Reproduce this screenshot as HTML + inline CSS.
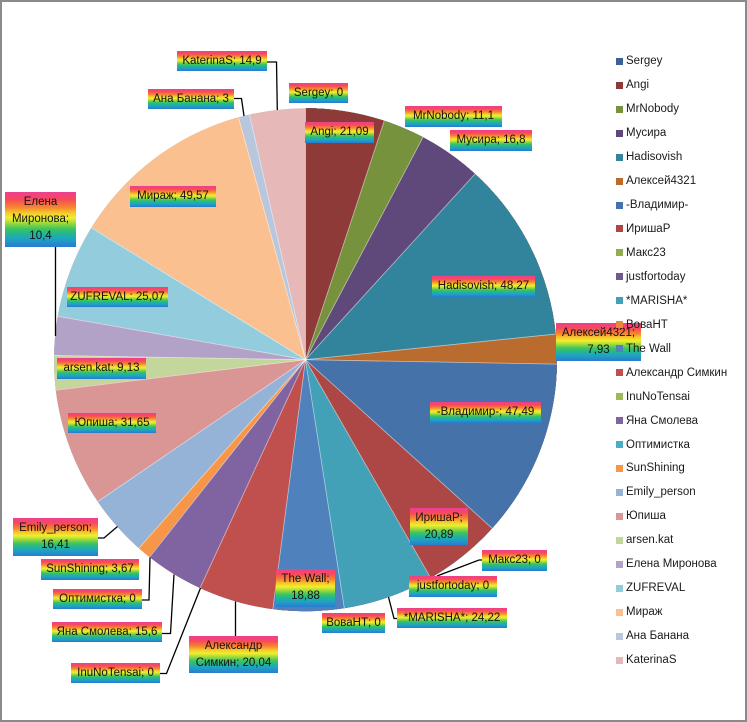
<!DOCTYPE html>
<html><head><meta charset="utf-8">
<style>
html,body{margin:0;padding:0;background:#fff;}
#wrap{position:relative;width:747px;height:722px;overflow:hidden;background:#fff;font-family:"Liberation Sans","Noto Sans CJK SC",sans-serif;}
#frame{position:absolute;left:0;top:0;width:747px;height:722px;box-sizing:border-box;border:2px solid #8a8a8a;}
svg{position:absolute;left:0;top:0;}
.lb{position:absolute;display:flex;align-items:center;justify-content:center;text-align:center;white-space:nowrap;font-size:11.5px;line-height:17px;color:#141414;
background:linear-gradient(180deg,#ee3f93 0%,#f74b58 14%,#f7862f 28%,#f6c82c 38%,#eef02c 47%,#9ad83e 57%,#3cc45e 67%,#22b39a 77%,#1fa2c4 86%,#2a7ad0 100%);}
.lg{position:absolute;left:616px;width:130px;height:14px;}
.lg i{position:absolute;left:0;top:3.5px;width:7px;height:7px;}
.lg span{position:absolute;left:10px;top:0;font-size:11.5px;line-height:14px;color:#1a1a1a;white-space:nowrap;}
</style></head>
<body><div id="wrap">
<svg width="747" height="722" viewBox="0 0 747 722">
<g transform="rotate(-90 305.5 359.7)" fill="none" stroke-width="251.5">
<circle cx="305.5" cy="359.7" r="125.75" stroke="#E6B9B8"/>
<circle cx="305.5" cy="359.7" r="125.75" stroke="#B8C6DE" stroke-dasharray="761.829 2000"/>
<circle cx="305.5" cy="359.7" r="125.75" stroke="#FAC090" stroke-dasharray="756.133 2000"/>
<circle cx="305.5" cy="359.7" r="125.75" stroke="#93CDDD" stroke-dasharray="662.008 2000"/>
<circle cx="305.5" cy="359.7" r="125.75" stroke="#B3A2C7" stroke-dasharray="614.404 2000"/>
<circle cx="305.5" cy="359.7" r="125.75" stroke="#C3D69B" stroke-dasharray="594.656 2000"/>
<circle cx="305.5" cy="359.7" r="125.75" stroke="#D99694" stroke-dasharray="577.320 2000"/>
<circle cx="305.5" cy="359.7" r="125.75" stroke="#95B3D7" stroke-dasharray="517.222 2000"/>
<circle cx="305.5" cy="359.7" r="125.75" stroke="#F79646" stroke-dasharray="486.062 2000"/>
<circle cx="305.5" cy="359.7" r="125.75" stroke="#8064A2" stroke-dasharray="479.093 2000"/>
<circle cx="305.5" cy="359.7" r="125.75" stroke="#C0504D" stroke-dasharray="449.471 2000"/>
<circle cx="305.5" cy="359.7" r="125.75" stroke="#4F81BD" stroke-dasharray="411.419 2000"/>
<circle cx="305.5" cy="359.7" r="125.75" stroke="#42A0B7" stroke-dasharray="375.569 2000"/>
<circle cx="305.5" cy="359.7" r="125.75" stroke="#AD4745" stroke-dasharray="329.579 2000"/>
<circle cx="305.5" cy="359.7" r="125.75" stroke="#4572A9" stroke-dasharray="289.913 2000"/>
<circle cx="305.5" cy="359.7" r="125.75" stroke="#BA6B2E" stroke-dasharray="199.737 2000"/>
<circle cx="305.5" cy="359.7" r="125.75" stroke="#31849B" stroke-dasharray="184.680 2000"/>
<circle cx="305.5" cy="359.7" r="125.75" stroke="#5F497A" stroke-dasharray="93.023 2000"/>
<circle cx="305.5" cy="359.7" r="125.75" stroke="#76923C" stroke-dasharray="61.123 2000"/>
<circle cx="305.5" cy="359.7" r="125.75" stroke="#8E3A38" stroke-dasharray="40.046 2000"/>
</g>
<g stroke="rgba(255,255,255,0.55)" stroke-width="0.8">
<line x1="305.5" y1="359.7" x2="305.5" y2="108.2" transform="rotate(0 305.5 359.7)"/>
<line x1="305.5" y1="359.7" x2="305.5" y2="108.2" transform="rotate(18.246 305.5 359.7)"/>
<line x1="305.5" y1="359.7" x2="305.5" y2="108.2" transform="rotate(27.849 305.5 359.7)"/>
<line x1="305.5" y1="359.7" x2="305.5" y2="108.2" transform="rotate(42.384 305.5 359.7)"/>
<line x1="305.5" y1="359.7" x2="305.5" y2="108.2" transform="rotate(84.145 305.5 359.7)"/>
<line x1="305.5" y1="359.7" x2="305.5" y2="108.2" transform="rotate(91.006 305.5 359.7)"/>
<line x1="305.5" y1="359.7" x2="305.5" y2="108.2" transform="rotate(132.092 305.5 359.7)"/>
<line x1="305.5" y1="359.7" x2="305.5" y2="108.2" transform="rotate(150.165 305.5 359.7)"/>
<line x1="305.5" y1="359.7" x2="305.5" y2="108.2" transform="rotate(171.119 305.5 359.7)"/>
<line x1="305.5" y1="359.7" x2="305.5" y2="108.2" transform="rotate(187.453 305.5 359.7)"/>
<line x1="305.5" y1="359.7" x2="305.5" y2="108.2" transform="rotate(204.791 305.5 359.7)"/>
<line x1="305.5" y1="359.7" x2="305.5" y2="108.2" transform="rotate(218.287 305.5 359.7)"/>
<line x1="305.5" y1="359.7" x2="305.5" y2="108.2" transform="rotate(221.463 305.5 359.7)"/>
<line x1="305.5" y1="359.7" x2="305.5" y2="108.2" transform="rotate(235.660 305.5 359.7)"/>
<line x1="305.5" y1="359.7" x2="305.5" y2="108.2" transform="rotate(263.042 305.5 359.7)"/>
<line x1="305.5" y1="359.7" x2="305.5" y2="108.2" transform="rotate(270.941 305.5 359.7)"/>
<line x1="305.5" y1="359.7" x2="305.5" y2="108.2" transform="rotate(279.938 305.5 359.7)"/>
<line x1="305.5" y1="359.7" x2="305.5" y2="108.2" transform="rotate(301.628 305.5 359.7)"/>
<line x1="305.5" y1="359.7" x2="305.5" y2="108.2" transform="rotate(344.514 305.5 359.7)"/>
<line x1="305.5" y1="359.7" x2="305.5" y2="108.2" transform="rotate(347.110 305.5 359.7)"/>
</g>
<g fill="none" stroke="#000" stroke-width="1.3">
<polyline points="267,62 276.5,62 277.3,110"/>
<polyline points="234,98.5 241.5,98.5 244,116"/>
<polyline points="55.5,247 55.5,336"/>
<polyline points="482,560 479,560 437,576"/>
<polyline points="397,618.5 394,618.5 388.5,597"/>
<polyline points="98,538 104,538 117.5,526.5"/>
<polyline points="142,600 149,600 150,557.5"/>
<polyline points="162,633.5 170.5,633.5 174,574.5"/>
<polyline points="160,673.5 166.5,673.5 200.5,588"/>
<polyline points="235.5,636 235.5,601.5"/>
</g>
</svg>

<div class="lb" style="left:177px;top:51px;width:90px;height:20px;">KaterinaS; 14,9</div>
<div class="lb" style="left:148px;top:89px;width:86px;height:20px;">Ана Банана; 3</div>
<div class="lb" style="left:289px;top:83px;width:59px;height:20px;">Sergey; 0</div>
<div class="lb" style="left:305px;top:122px;width:69px;height:21px;">Angi; 21,09</div>
<div class="lb" style="left:405px;top:106px;width:97px;height:21px;">MrNobody; 11,1</div>
<div class="lb" style="left:450px;top:130px;width:82px;height:21px;">Мусира; 16,8</div>
<div class="lb" style="left:130px;top:186px;width:86px;height:21px;">Мираж; 49,57</div>
<div class="lb" style="left:5px;top:192px;width:71px;height:55px;">Елена<br>Миронова;<br>10,4</div>
<div class="lb" style="left:432px;top:276px;width:103px;height:21px;">Hadisovish; 48,27</div>
<div class="lb" style="left:556px;top:323px;width:85px;height:38px;">Алексей4321;<br>7,93</div>
<div class="lb" style="left:67px;top:287px;width:101px;height:20px;">ZUFREVAL; 25,07</div>
<div class="lb" style="left:57px;top:358px;width:89px;height:21px;">arsen.kat; 9,13</div>
<div class="lb" style="left:430px;top:402px;width:111px;height:21px;">-Владимир-; 47,49</div>
<div class="lb" style="left:68px;top:413px;width:88px;height:20px;">Юпиша; 31,65</div>
<div class="lb" style="left:410px;top:508px;width:58px;height:37px;">ИришаР;<br>20,89</div>
<div class="lb" style="left:13px;top:518px;width:85px;height:38px;">Emily_person;<br>16,41</div>
<div class="lb" style="left:482px;top:550px;width:65px;height:21px;">Макс23; 0</div>
<div class="lb" style="left:41px;top:559px;width:98px;height:21px;">SunShining; 3,67</div>
<div class="lb" style="left:276px;top:569px;width:59px;height:38px;">The Wall;<br>18,88</div>
<div class="lb" style="left:409px;top:576px;width:88px;height:21px;">justfortoday; 0</div>
<div class="lb" style="left:53px;top:589px;width:89px;height:20px;">Оптимистка; 0</div>
<div class="lb" style="left:397px;top:608px;width:110px;height:20px;">*MARISHA*; 24,22</div>
<div class="lb" style="left:322px;top:613px;width:63px;height:20px;">ВоваНТ; 0</div>
<div class="lb" style="left:52px;top:622px;width:110px;height:20px;">Яна Смолева; 15,6</div>
<div class="lb" style="left:189px;top:636px;width:89px;height:37px;">Александр<br>Симкин; 20,04</div>
<div class="lb" style="left:71px;top:663px;width:89px;height:20px;">InuNoTensai; 0</div>

<div class="lg" style="top:54.3px"><i style="background:#3A6393"></i><span>Sergey</span></div>
<div class="lg" style="top:78.2px"><i style="background:#8E3A38"></i><span>Angi</span></div>
<div class="lg" style="top:102.2px"><i style="background:#76923C"></i><span>MrNobody</span></div>
<div class="lg" style="top:126.1px"><i style="background:#5F497A"></i><span>Мусира</span></div>
<div class="lg" style="top:150.1px"><i style="background:#31849B"></i><span>Hadisovish</span></div>
<div class="lg" style="top:174.0px"><i style="background:#BA6B2E"></i><span>Алексей4321</span></div>
<div class="lg" style="top:198.0px"><i style="background:#4572A9"></i><span>-Владимир-</span></div>
<div class="lg" style="top:221.9px"><i style="background:#AD4745"></i><span>ИришаР</span></div>
<div class="lg" style="top:245.9px"><i style="background:#8FAF4F"></i><span>Макс23</span></div>
<div class="lg" style="top:269.8px"><i style="background:#71588F"></i><span>justfortoday</span></div>
<div class="lg" style="top:293.8px"><i style="background:#42A0B7"></i><span>*MARISHA*</span></div>
<div class="lg" style="top:317.7px"><i style="background:#E8883A"></i><span>ВоваНТ</span></div>
<div class="lg" style="top:341.7px"><i style="background:#4F81BD"></i><span>The Wall</span></div>
<div class="lg" style="top:365.6px"><i style="background:#C0504D"></i><span>Александр Симкин</span></div>
<div class="lg" style="top:389.6px"><i style="background:#9BBB59"></i><span>InuNoTensai</span></div>
<div class="lg" style="top:413.5px"><i style="background:#8064A2"></i><span>Яна Смолева</span></div>
<div class="lg" style="top:437.5px"><i style="background:#4BACC6"></i><span>Оптимистка</span></div>
<div class="lg" style="top:461.4px"><i style="background:#F79646"></i><span>SunShining</span></div>
<div class="lg" style="top:485.4px"><i style="background:#95B3D7"></i><span>Emily_person</span></div>
<div class="lg" style="top:509.3px"><i style="background:#D99694"></i><span>Юпиша</span></div>
<div class="lg" style="top:533.3px"><i style="background:#C3D69B"></i><span>arsen.kat</span></div>
<div class="lg" style="top:557.2px"><i style="background:#B3A2C7"></i><span>Елена Миронова</span></div>
<div class="lg" style="top:581.2px"><i style="background:#93CDDD"></i><span>ZUFREVAL</span></div>
<div class="lg" style="top:605.1px"><i style="background:#FAC090"></i><span>Мираж</span></div>
<div class="lg" style="top:629.1px"><i style="background:#B8C6DE"></i><span>Ана Банана</span></div>
<div class="lg" style="top:653.0px"><i style="background:#E6B9B8"></i><span>KaterinaS</span></div>

<div id="frame"></div>
</div></body></html>
